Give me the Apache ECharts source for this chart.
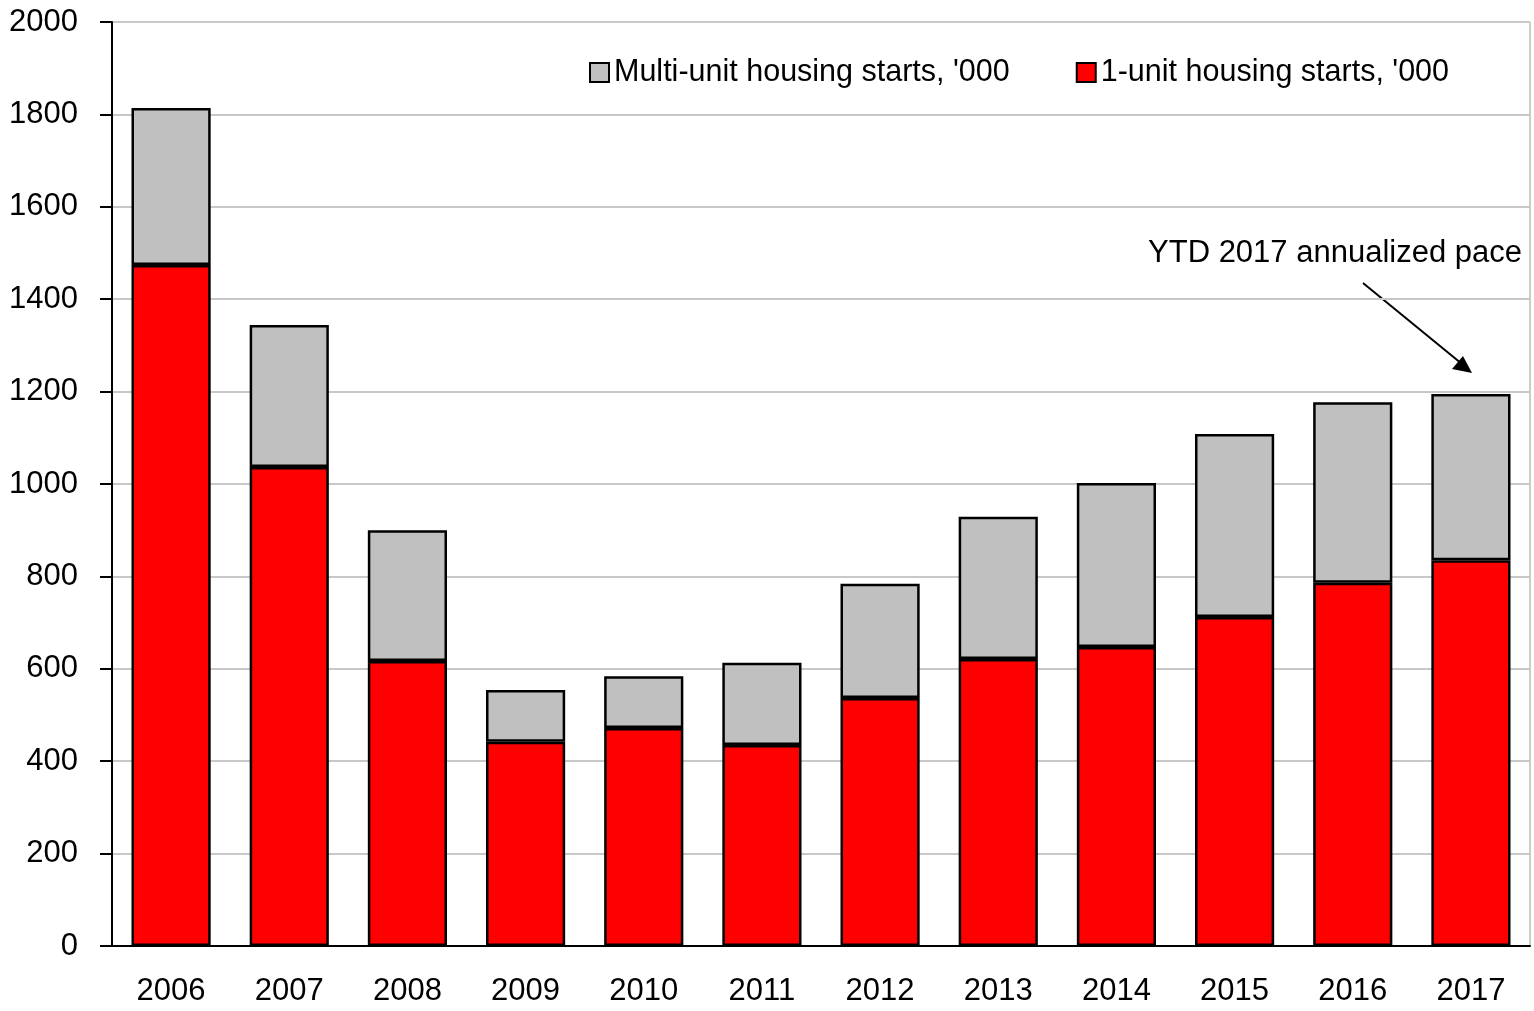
<!doctype html>
<html>
<head>
<meta charset="utf-8"/>
<title>housing starts</title>
<script src="https://cdn.jsdelivr.net/npm/echarts@6/dist/echarts.min.js"></script>
<style>
*{margin:0;padding:0;}
body{background:#fff;}
#main{width:1534px;height:1011px;}
</style>
</head>
<body>
<div id="main"></div>
<script type="text/javascript">
// data ('000 units)
var years = ['2006','2007','2008','2009','2010','2011','2012','2013','2014','2015','2016','2017'];
var singleUnit = [1474, 1037, 617, 442, 472, 435, 537, 621, 647, 712, 786, 835];
var multiUnit  = [340, 307, 283, 112, 112, 178, 247, 308, 355, 396, 391, 360];

var FONT = "'Liberation Sans Narrow', 'Arial Narrow', 'Liberation Sans', Arial, sans-serif";
var FS = 31;

var myChart = echarts.init(document.getElementById('main'));

var option = {
  animation: false,
  textStyle: {fontFamily: FONT},
  grid: {
    left: 112, right: 4, top: 22, bottom: 65,
    outerBoundsMode: 'none',
    containLabel: false,
    show: true, borderColor: '#999', borderWidth: 1
  },
  legend: {
    data: ['Multi-unit housing starts, \'000', '1-unit housing starts, \'000'],
    left: 584, top: 52, width: 940,
    orient: 'horizontal',
    icon: 'rect',
    itemWidth: 19, itemHeight: 19, itemGap: 66,
    textStyle: {fontFamily: FONT, fontSize: 30.5, color: '#000'}
  },
  xAxis: {
    type: 'category',
    data: years,
    axisLine: {lineStyle: {color: '#000', width: 2}},
    axisTick: {length: 11, lineStyle: {color: '#000', width: 2}},
    axisLabel: {fontFamily: FONT, fontSize: FS, color: '#000', margin: 30}
  },
  yAxis: {
    type: 'value',
    min: 0, max: 2000, interval: 200,
    axisLine: {show: true, lineStyle: {color: '#000', width: 2}},
    axisTick: {show: true, length: 12, lineStyle: {color: '#000', width: 2}},
    axisLabel: {
      fontFamily: FONT, fontSize: FS, color: '#000', margin: 34,
      formatter: function (v) { return String(v); }
    },
    splitLine: {lineStyle: {color: '#c8c8c8', width: 2}}
  },
  series: [
    {
      name: '1-unit housing starts, \'000',
      type: 'bar', stack: 'total',
      barWidth: '67%',
      data: singleUnit,
      itemStyle: {color: '#ff0000', borderColor: '#000', borderWidth: 2.5}
    },
    {
      name: 'Multi-unit housing starts, \'000',
      type: 'bar', stack: 'total',
      data: multiUnit,
      itemStyle: {color: '#c0c0c0', borderColor: '#000', borderWidth: 2.5}
    }
  ],
  graphic: [
    {
      type: 'text', right: 12, top: 238,
      style: {text: 'YTD 2017 annualized pace', fontFamily: FONT, fontSize: FS, fill: '#000'}
    },
    {
      type: 'line',
      shape: {x1: 1363, y1: 283, x2: 1462, y2: 364},
      style: {stroke: '#000', lineWidth: 2}
    },
    {
      type: 'polygon',
      shape: {points: [[1472, 373], [1452, 369], [1463, 356]]},
      style: {fill: '#000'}
    }
  ]
};

myChart.setOption(option);
</script>
</body>
</html>
